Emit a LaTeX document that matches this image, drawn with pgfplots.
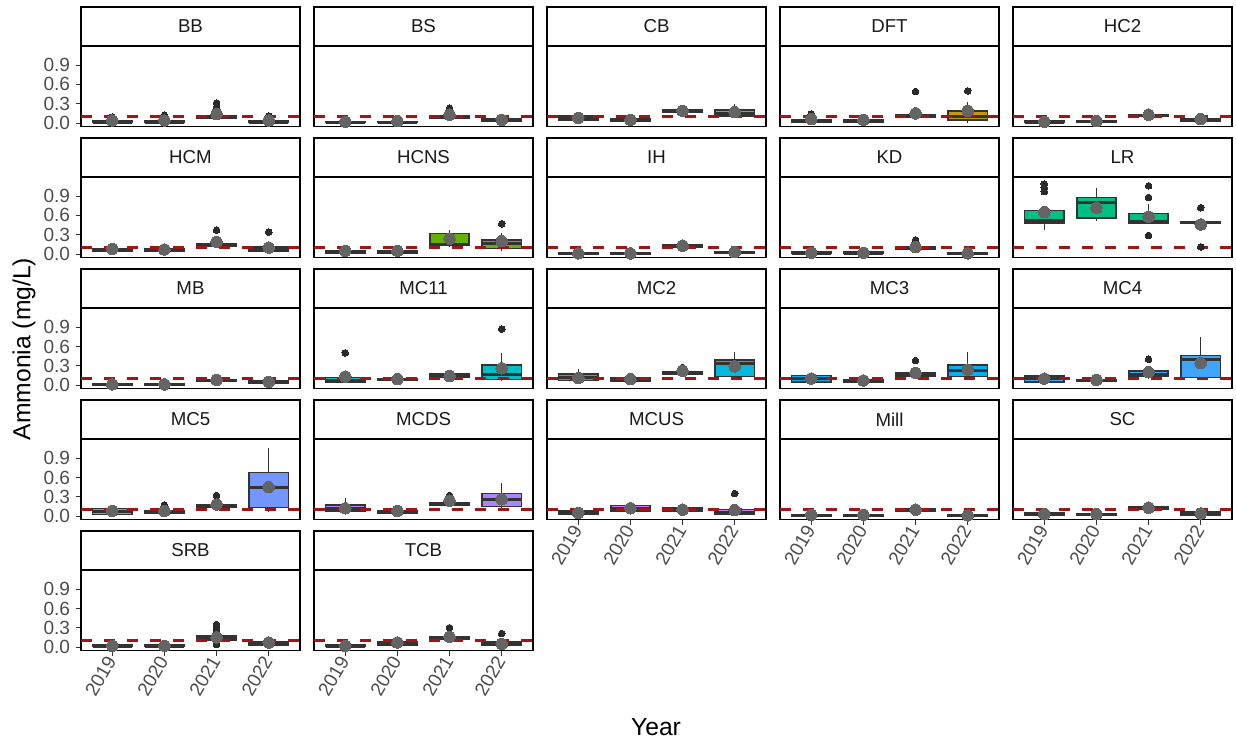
\documentclass[border=0pt]{standalone}
\usepackage{fontspec}
\setmainfont{Liberation Sans}
\usepackage{pgfplots}
\pgfplotsset{compat=1.18}
\usepgfplotslibrary{groupplots,statistics}
\definecolor{boxc}{HTML}{333333}
\definecolor{outc}{HTML}{2A2A2A}
\definecolor{meanc}{HTML}{646464}
\definecolor{refred}{HTML}{A31515}
\definecolor{tickc}{HTML}{4D4D4D}
\definecolor{stripc}{HTML}{1A1A1A}
\definecolor{cBB}{HTML}{F8766D}
\definecolor{cBS}{HTML}{EA8331}
\definecolor{cCB}{HTML}{DB8E00}
\definecolor{cDFT}{HTML}{C59800}
\definecolor{cHC2}{HTML}{ACA200}
\definecolor{cHCM}{HTML}{8CAA00}
\definecolor{cHCNS}{HTML}{64B200}
\definecolor{cIH}{HTML}{39B600}
\definecolor{cKD}{HTML}{00BC56}
\definecolor{cLR}{HTML}{00BF84}
\definecolor{cMB}{HTML}{00C0A5}
\definecolor{cMCa}{HTML}{00BFC4}
\definecolor{cMCb}{HTML}{00B9DC}
\definecolor{cMCc}{HTML}{00B0F6}
\definecolor{cMCd}{HTML}{3EA5FA}
\definecolor{cMCe}{HTML}{7396FF}
\definecolor{cMCDS}{HTML}{AB85FF}
\definecolor{cMCUS}{HTML}{D376F7}
\definecolor{cMill}{HTML}{ED68E8}
\definecolor{cSC}{HTML}{F964D1}
\definecolor{cSRB}{HTML}{FE64B5}
\definecolor{cTCB}{HTML}{FC6C92}
% pos, lower whisker, q1, median, q3, upper whisker, mean, colour, outliers
\newcommand{\bx}[9]{%
\addplot[boxplot prepared={draw position=#1, lower whisker=#2, lower quartile=#3, median=#4, upper quartile=#5, upper whisker=#6, box extend=0.75, whisker extend=0, draw direction=y},
  draw=boxc, line width=1.1pt, fill=#8, mark=*, mark size=2.5pt,
  mark options={draw=outc, fill=outc, line width=0pt}] coordinates {#9};
\addplot[only marks, mark=*, mark size=4.3pt, mark options={draw=meanc, fill=meanc, line width=0pt}] coordinates {(#1,#7)};
}
\newcommand{\hl}{\addplot[color=refred, line width=2.2pt, dash pattern=on 8.25pt off 9pt] coordinates {(0.4,0.1) (4.6,0.1)};}
\pgfplotsset{
  bottomx/.style={xtick={1,2,3,4}, xticklabels={2019,2020,2021,2022}},
  lefty/.style={ytick={0,0.3,0.6,0.9}, yticklabels={0.0,0.3,0.6,0.9}},
  boxplot/draw direction=y,
  boxplot/every median/.style={line width=2.3pt},
  boxplot/every whisker/.style={line width=0.8pt},
}
\begin{document}
\begin{tikzpicture}
\begin{groupplot}[
  group style={group size=5 by 5, horizontal sep=10.5pt, vertical sep=38.25pt},
  width=164.25pt, height=60pt, scale only axis,
  xmin=0.4, xmax=4.6, ymin=-0.0565, ymax=1.187,
  xtick=\empty, ytick=\empty,
  axis line style={line width=0.8pt, black},
  tick align=outside, tick pos=left, major tick length=4pt,
  tick style={line width=0.7pt, color=boxc},
  yticklabel style={font=\fontsize{14.3}{14.3}\selectfont, text=tickc, inner sep=1pt, xshift=-3pt},
  xticklabel style={font=\fontsize{14.3}{14.3}\selectfont, text=tickc, rotate=60, anchor=east, inner sep=1.5pt},
  every axis title/.style={at={(0.5,1)}, anchor=south, draw=black, line width=1.3pt, fill=white,
    minimum width=164.25pt, minimum height=29pt, inner sep=0pt,
    font=\fontsize{14}{14}\selectfont, text=stripc},
]
% ---- row 1
\nextgroupplot[title=BB, lefty]
\bx{1}{0}{0.005}{0.01}{0.03}{0.06}{0.04}{cBB}{(0,0.09)}
\bx{2}{0}{0.005}{0.01}{0.03}{0.06}{0.04}{cBB}{(0,0.12)}
\bx{3}{0.04}{0.07}{0.09}{0.11}{0.15}{0.14}{cBB}{(0,0.18) (0,0.21) (0,0.24) (0,0.31)}
\bx{4}{0}{0.005}{0.01}{0.03}{0.06}{0.04}{cBB}{(0,0.11)}
\hl
\nextgroupplot[title=BS]
\bx{1}{0}{0.005}{0.01}{0.02}{0.04}{0.02}{cBS}{}
\bx{2}{0}{0.005}{0.01}{0.02}{0.04}{0.03}{cBS}{}
\bx{3}{0.05}{0.08}{0.1}{0.12}{0.16}{0.13}{cBS}{(0,0.2) (0,0.23)}
\bx{4}{0.01}{0.03}{0.05}{0.07}{0.11}{0.05}{cBS}{}
\hl
\nextgroupplot[title=CB]
\bx{1}{0.02}{0.05}{0.08}{0.11}{0.13}{0.08}{cCB}{}
\bx{2}{0}{0.02}{0.04}{0.07}{0.1}{0.05}{cCB}{}
\bx{3}{0.15}{0.17}{0.19}{0.21}{0.23}{0.19}{cCB}{}
\bx{4}{0.09}{0.11}{0.15}{0.2}{0.29}{0.17}{cCB}{}
\hl
\nextgroupplot[title=DFT]
\bx{1}{0}{0.005}{0.02}{0.05}{0.09}{0.06}{cDFT}{(0,0.14)}
\bx{2}{0}{0.01}{0.02}{0.05}{0.07}{0.05}{cDFT}{}
\bx{3}{0.07}{0.09}{0.11}{0.13}{0.17}{0.15}{cDFT}{(0,0.49)}
\bx{4}{0}{0.05}{0.1}{0.19}{0.33}{0.19}{cDFT}{(0,0.5)}
\hl
\nextgroupplot[title=HC2]
\bx{1}{0}{0.005}{0.01}{0.03}{0.05}{0.02}{cHC2}{}
\bx{2}{0}{0.005}{0.02}{0.04}{0.06}{0.03}{cHC2}{}
\bx{3}{0.08}{0.1}{0.12}{0.13}{0.15}{0.13}{cHC2}{}
\bx{4}{0}{0.02}{0.04}{0.07}{0.1}{0.06}{cHC2}{}
\hl
% ---- row 2
\nextgroupplot[title=HCM, lefty]
\bx{1}{0.03}{0.05}{0.07}{0.09}{0.11}{0.08}{cHCM}{}
\bx{2}{0.02}{0.04}{0.06}{0.08}{0.1}{0.07}{cHCM}{}
\bx{3}{0.1}{0.12}{0.14}{0.16}{0.2}{0.19}{cHCM}{(0,0.37)}
\bx{4}{0.03}{0.05}{0.08}{0.11}{0.17}{0.1}{cHCM}{(0,0.34)}
\hl
\nextgroupplot[title=HCNS]
\bx{1}{0}{0.005}{0.02}{0.05}{0.08}{0.05}{cHCNS}{}
\bx{2}{0}{0.01}{0.03}{0.05}{0.08}{0.05}{cHCNS}{}
\bx{3}{0.12}{0.13}{0.15}{0.32}{0.37}{0.24}{cHCNS}{}
\bx{4}{0.05}{0.09}{0.16}{0.22}{0.33}{0.2}{cHCNS}{(0,0.47)}
\hl
\nextgroupplot[title=IH]
\bx{1}{0}{0.002}{0.005}{0.015}{0.03}{0.01}{cIH}{}
\bx{2}{0}{0.002}{0.005}{0.015}{0.03}{0.01}{cIH}{}
\bx{3}{0.09}{0.11}{0.12}{0.14}{0.16}{0.13}{cIH}{}
\bx{4}{0}{0.01}{0.02}{0.04}{0.06}{0.03}{cIH}{}
\hl
\nextgroupplot[title=KD]
\bx{1}{0}{0.005}{0.01}{0.03}{0.05}{0.02}{cKD}{}
\bx{2}{0}{0.005}{0.01}{0.03}{0.05}{0.02}{cKD}{}
\bx{3}{0.07}{0.08}{0.1}{0.12}{0.16}{0.11}{cKD}{(0,0.22)}
\bx{4}{0}{0.002}{0.005}{0.015}{0.03}{0.01}{cKD}{}
\hl
\nextgroupplot[title=LR]
\bx{1}{0.37}{0.48}{0.52}{0.68}{0.68}{0.65}{cLR}{(0,0.97) (0,1.03) (0,1.09)}
\bx{2}{0.51}{0.56}{0.8}{0.88}{1.02}{0.72}{cLR}{}
\bx{3}{0.48}{0.48}{0.5}{0.63}{0.77}{0.58}{cLR}{(0,0.29) (0,0.88) (0,1.06)}
\bx{4}{0.48}{0.48}{0.49}{0.5}{0.5}{0.46}{cLR}{(0,0.11) (0,0.72)}
\hl
% ---- row 3
\nextgroupplot[title=MB, lefty]
\bx{1}{0}{0.002}{0.005}{0.02}{0.03}{0.01}{cMB}{}
\bx{2}{0}{0.002}{0.005}{0.02}{0.03}{0.01}{cMB}{}
\bx{3}{0.05}{0.06}{0.07}{0.09}{0.1}{0.08}{cMB}{}
\bx{4}{0}{0.02}{0.04}{0.07}{0.12}{0.05}{cMB}{}
\hl
\nextgroupplot[title=MC11]
\bx{1}{0.04}{0.05}{0.07}{0.12}{0.22}{0.13}{cMCa}{(0,0.5)}
\bx{2}{0.05}{0.07}{0.08}{0.1}{0.12}{0.09}{cMCa}{}
\bx{3}{0.09}{0.12}{0.15}{0.18}{0.2}{0.14}{cMCa}{}
\bx{4}{0.06}{0.09}{0.16}{0.31}{0.5}{0.26}{cMCa}{(0,0.87)}
\hl
\nextgroupplot[title=MC2]
\bx{1}{0.04}{0.07}{0.12}{0.17}{0.25}{0.11}{cMCb}{}
\bx{2}{0.03}{0.06}{0.09}{0.12}{0.14}{0.09}{cMCb}{}
\bx{3}{0.15}{0.17}{0.19}{0.21}{0.24}{0.22}{cMCb}{(0,0.27)}
\bx{4}{0.1}{0.13}{0.33}{0.39}{0.52}{0.29}{cMCb}{}
\hl
\nextgroupplot[title=MC3]
\bx{1}{0.03}{0.05}{0.1}{0.15}{0.17}{0.1}{cMCc}{}
\bx{2}{0.01}{0.04}{0.06}{0.09}{0.11}{0.07}{cMCc}{}
\bx{3}{0.1}{0.13}{0.16}{0.19}{0.22}{0.19}{cMCc}{(0,0.38)}
\bx{4}{0.1}{0.13}{0.22}{0.31}{0.52}{0.24}{cMCc}{}
\hl
\nextgroupplot[title=MC4]
\bx{1}{0.02}{0.05}{0.1}{0.14}{0.16}{0.1}{cMCd}{}
\bx{2}{0}{0.06}{0.07}{0.08}{0.12}{0.08}{cMCd}{}
\bx{3}{0.1}{0.13}{0.17}{0.22}{0.26}{0.2}{cMCd}{(0,0.4)}
\bx{4}{0.1}{0.12}{0.4}{0.46}{0.74}{0.34}{cMCd}{}
\hl
% ---- row 4
\nextgroupplot[title=MC5, lefty]
\bx{1}{0}{0.02}{0.07}{0.12}{0.13}{0.08}{cMCe}{}
\bx{2}{0.02}{0.05}{0.07}{0.09}{0.13}{0.08}{cMCe}{(0,0.17)}
\bx{3}{0.1}{0.13}{0.15}{0.17}{0.2}{0.18}{cMCe}{(0,0.32)}
\bx{4}{0.06}{0.13}{0.45}{0.68}{1.06}{0.45}{cMCe}{}
\hl
\nextgroupplot[title=MCDS]
\bx{1}{0.05}{0.08}{0.12}{0.17}{0.28}{0.12}{cMCDS}{}
\bx{2}{0.03}{0.05}{0.07}{0.09}{0.11}{0.08}{cMCDS}{}
\bx{3}{0.16}{0.17}{0.19}{0.2}{0.23}{0.24}{cMCDS}{(0,0.32)}
\bx{4}{0.1}{0.15}{0.25}{0.35}{0.51}{0.26}{cMCDS}{}
\hl
\nextgroupplot[title=MCUS, bottomx]
\bx{1}{0.01}{0.03}{0.05}{0.08}{0.1}{0.05}{cMCUS}{}
\bx{2}{0.04}{0.08}{0.12}{0.16}{0.18}{0.12}{cMCUS}{}
\bx{3}{0.06}{0.08}{0.1}{0.13}{0.15}{0.1}{cMCUS}{}
\bx{4}{0}{0.02}{0.05}{0.1}{0.15}{0.09}{cMCUS}{(0,0.35)}
\hl
\nextgroupplot[title=Mill, bottomx]
\bx{1}{0}{0.002}{0.005}{0.02}{0.04}{0.02}{cMill}{}
\bx{2}{0}{0.002}{0.005}{0.02}{0.04}{0.02}{cMill}{}
\bx{3}{0.06}{0.08}{0.1}{0.11}{0.13}{0.1}{cMill}{}
\bx{4}{0}{0.002}{0.005}{0.02}{0.04}{0.01}{cMill}{}
\hl
\nextgroupplot[title=SC, bottomx]
\bx{1}{0}{0.01}{0.03}{0.05}{0.07}{0.03}{cSC}{}
\bx{2}{0}{0.005}{0.02}{0.04}{0.06}{0.03}{cSC}{}
\bx{3}{0.09}{0.11}{0.12}{0.14}{0.17}{0.13}{cSC}{}
\bx{4}{0}{0.01}{0.03}{0.06}{0.08}{0.04}{cSC}{}
\hl
% ---- row 5
\nextgroupplot[title=SRB, lefty, bottomx]
\bx{1}{0}{0.005}{0.01}{0.03}{0.05}{0.02}{cSRB}{}
\bx{2}{0}{0.005}{0.01}{0.03}{0.05}{0.02}{cSRB}{}
\bx{3}{0.09}{0.11}{0.14}{0.17}{0.2}{0.15}{cSRB}{(0,0.04) (0,0.25) (0,0.3) (0,0.35)}
\bx{4}{0.01}{0.03}{0.05}{0.08}{0.13}{0.07}{cSRB}{}
\hl
\nextgroupplot[title=TCB, bottomx]
\bx{1}{0}{0.005}{0.01}{0.03}{0.05}{0.02}{cTCB}{}
\bx{2}{0}{0.02}{0.05}{0.08}{0.11}{0.07}{cTCB}{}
\bx{3}{0.09}{0.12}{0.14}{0.16}{0.2}{0.16}{cTCB}{(0,0.3)}
\bx{4}{0}{0.02}{0.05}{0.08}{0.13}{0.05}{cTCB}{(0,0.21)}
\hl
\end{groupplot}
\node[rotate=90, font=\fontsize{18.5}{20}\selectfont] at ([shift={(-42.75pt,-226.7pt)}]group c1r1.north west) {Ammonia (mg/L)};
\node[font=\fontsize{18.5}{20}\selectfont] at ([shift={(431.25pt,-510.2pt)}]group c1r1.north west) {Year};
\pgfresetboundingbox
\path[use as bounding box] ([shift={(-60.75pt,35pt)}]group c1r1.north west) rectangle ([shift={(866.25pt,-520pt)}]group c1r1.north west);
\end{tikzpicture}
\end{document}
